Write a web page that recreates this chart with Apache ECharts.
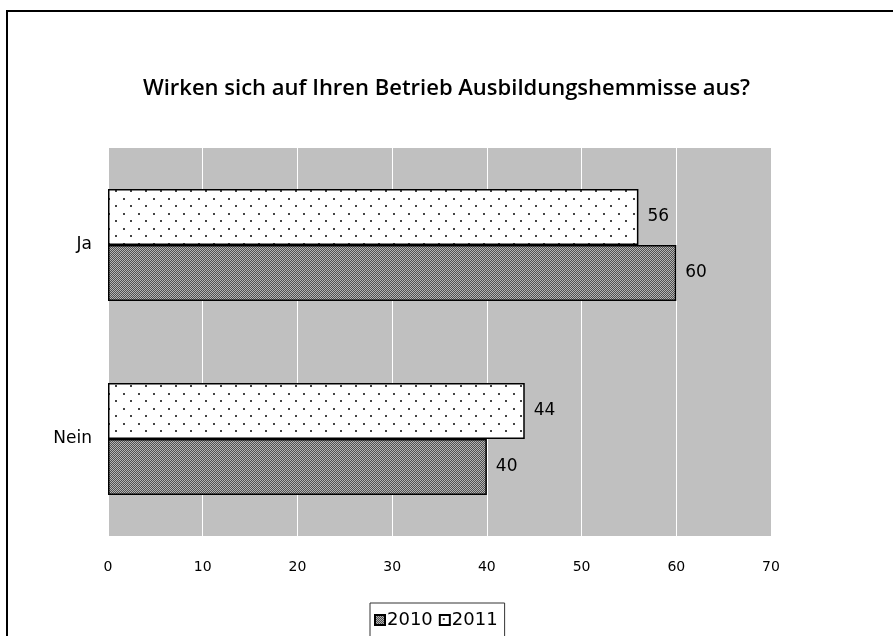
<!DOCTYPE html>
<html>
  <head>
    <meta charset="utf-8" />
    <title>Ausbildungshemmisse</title>
    <script src="https://cdn.jsdelivr.net/npm/echarts@6.0.0/dist/echarts.min.js"></script>
    <style>
      html, body { margin: 0; padding: 0; background: #fff; }
    </style>
  </head>
  <body>
    <div id="chart" style="width: 893px;height:636px;"></div>
    <script type="text/javascript">

      // Daten
      var kategorien = ['Ja', 'Nein'];
      var werte2010 = [60, 40];
      var werte2011 = [56, 44];
      var achsenMax = 70;

      // Muster für die Balken (Punkte / Karo)
      function punktMuster() {
        var c = document.createElement('canvas');
        c.width = 15; c.height = 15;
        var ctx = c.getContext('2d');
        ctx.fillStyle = '#fff';
        ctx.fillRect(0, 0, 15, 15);
        ctx.fillStyle = '#444';
        ctx.fillRect(3, 3, 2, 2);
        ctx.fillRect(10, 10, 2, 2);
        return c;
      }
      function karoMuster() {
        var c = document.createElement('canvas');
        c.width = 2; c.height = 2;
        var ctx = c.getContext('2d');
        ctx.fillStyle = '#505050';
        ctx.fillRect(0, 0, 2, 2);
        ctx.fillStyle = '#b4b4b4';
        ctx.fillRect(0, 0, 1, 1);
        ctx.fillRect(1, 1, 1, 1);
        return c;
      }

      var chart = echarts.init(document.getElementById('chart'));

      var labelStil = {
        show: true,
        position: 'right',
        distance: 9,
        fontFamily: 'DejaVu Sans',
        fontSize: 17,
        color: '#000'
      };

      var option = {
        animation: false,
        title: {
          text: 'Wirken sich auf Ihren Betrieb Ausbildungshemmisse aus?',
          left: 'center',
          top: 73,
          textStyle: {
            fontFamily: 'Open Sans',
            fontWeight: 600,
            fontSize: 22,
            color: '#000'
          }
        },
        graphic: [
          {
            type: 'rect',
            shape: { x: 7, y: 11, width: 900, height: 640 },
            style: { fill: 'none', stroke: '#000', lineWidth: 2 },
            silent: true
          }
        ],
        legend: {
          data: ['2010', '2011'],
          left: 370,
          top: 603,
          orient: 'horizontal',
          itemWidth: 10,
          itemHeight: 10,
          itemGap: 6,
          padding: [8, 7, 14, 4],
          borderColor: '#333',
          borderWidth: 1,
          backgroundColor: '#fff',
          icon: 'rect',
          textStyle: {
            fontFamily: 'DejaVu Sans',
            fontSize: 18,
            color: '#000',
            padding: [0, 0, 0, -3]
          }
        },
        grid: {
          left: 108,
          right: 122,
          top: 148,
          bottom: 100,
          show: true,
          backgroundColor: '#c0c0c0',
          borderWidth: 0
        },
        xAxis: {
          type: 'value',
          min: 0,
          max: achsenMax,
          interval: 10,
          axisLine: { show: false },
          axisTick: { show: false },
          splitLine: { lineStyle: { color: '#fff', width: 1 } },
          axisLabel: {
            margin: 24,
            fontFamily: 'DejaVu Sans',
            fontSize: 14,
            color: '#000'
          }
        },
        yAxis: {
          type: 'category',
          data: kategorien,
          inverse: true,
          axisLine: { show: false },
          axisTick: { show: false },
          axisLabel: {
            margin: 16,
            fontFamily: 'DejaVu Sans',
            fontSize: 17,
            color: '#000'
          }
        },
        series: [
          {
            name: '2011',
            type: 'bar',
            data: werte2011,
            barWidth: 56,
            barGap: '0%',
            itemStyle: {
              color: { image: punktMuster(), repeat: 'repeat' },
              borderColor: '#000',
              borderWidth: 1.5
            },
            label: labelStil
          },
          {
            name: '2010',
            type: 'bar',
            data: werte2010,
            barWidth: 56,
            barGap: '0%',
            itemStyle: {
              color: { image: karoMuster(), repeat: 'repeat' },
              borderColor: '#000',
              borderWidth: 1.5
            },
            label: labelStil
          }
        ]
      };

      chart.setOption(option);
    </script>
  </body>
</html>
